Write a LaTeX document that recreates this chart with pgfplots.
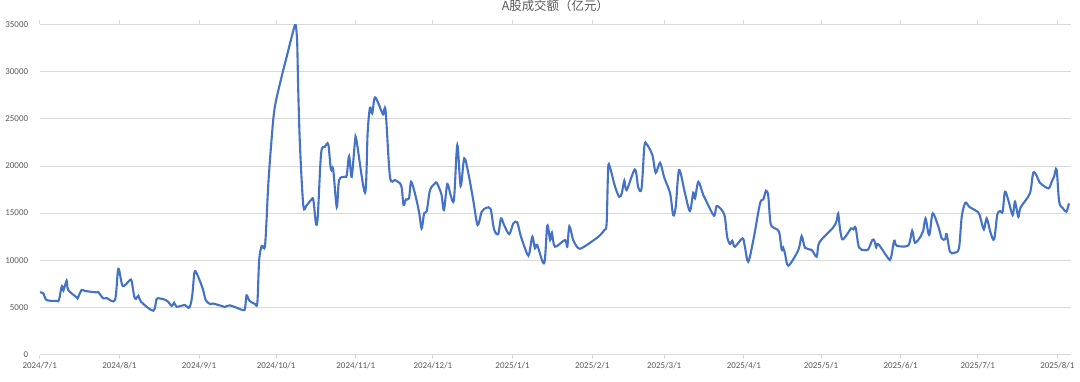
\documentclass[border=0pt]{standalone}
\usepackage{pgfplots}
\pgfplotsset{compat=1.18}
\usepackage{fontspec}
\setmainfont{Carlito}
\newfontfamily\cjk{Noto Sans CJK SC}
\definecolor{linec}{HTML}{4472C4}
\definecolor{gridc}{HTML}{D9D9D9}
\definecolor{txtc}{HTML}{595959}
\begin{document}
\begin{tikzpicture}
\path[use as bounding box] (-39.7bp,-27.3bp) rectangle (1040.3bp,354.7bp);
\begin{axis}[
  scale only axis,
  width=1031.3bp, height=330.4bp,
  xmin=0, xmax=401.3, ymin=0, ymax=35000,
  ytick={0,5000,...,35000},
  scaled y ticks=false,
  xtick={0,31,62,92,123,153,184,215,243,274,304,335,365,396},
  xticklabels={2024/7/1,2024/8/1,2024/9/1,2024/10/1,2024/11/1,2024/12/1,2025/1/1,2025/2/1,2025/3/1,2025/4/1,2025/5/1,2025/6/1,2025/7/1,2025/8/1},
  /pgf/number format/assume math mode=true,
  /pgf/number format/1000 sep={},
  ymajorgrids, grid style={gridc, line width=0.8bp},
  axis line style={draw=none},
  tick align=outside,
  major tick length=4bp,
  xtick style={draw=gridc, line width=0.8bp},
  ytick style={draw=none},
  ticklabel style={font=\fontsize{9}{10}\selectfont, text=txtc},
  yticklabel style={inner sep=0pt, xshift=-7.4bp},
  xticklabel style={inner sep=0pt, yshift=-3bp},
  title={\cjk A股成交额（亿元）},
  title style={at={(0.5,1)}, anchor=base, yshift=8bp, font=\fontsize{12.5}{13}\selectfont, text=txtc},
]
\addplot[linec, line width=2.1bp, smooth, tension=0.5] table {
x y
0.1 6600
1.4 6500
2.7 5790
6.6 5700
7.5 5800
8.6 7275
9.2 6780
10.5 7840
11.1 6850
14.4 6080
14.8 6000
16.3 6850
17.6 6750
22.2 6600
22.8 6630
24.7 5970
26.1 6000
29.3 5790
30.6 9100
32.3 7275
35.1 7910
35.8 7770
36.8 6140
37.5 5930
38.4 6250
39.4 5610
44.2 4660
45.5 5900
46.8 5950
48.5 5850
50.0 5610
51.4 5160
52.3 5500
53.3 5080
56.5 5260
58.2 4980
59.3 6140
60.2 8680
61.1 8610
63.4 7030
64.6 5790
66.3 5370
67.5 5420
70.8 5160
72.1 5050
74.0 5230
79.0 4730
79.9 4900
80.5 6290
81.6 5720
83.8 5370
84.7 5500
85.4 10030
86.4 11510
87.7 11620
88.9 17800
90.0 22030
91.3 25910
93.5 28740
96.1 31560
99.1 34740
99.7 34800
100.2 33000
100.6 28000
101.3 22000
102.6 15750
103.9 15850
105.8 16450
106.5 16380
107.5 13910
108.2 14610
109.5 21330
111.0 22030
112.3 22280
113.3 19630
114.2 19630
115.6 15610
116.5 18500
118.8 18850
119.5 19030
120.4 21040
121.4 18850
122.7 22630
123.3 22670
126.6 17160
127.6 23450
128.5 26160
129.4 25560
130.5 27260
133.1 25730
133.7 25460
134.6 25840
136.3 18850
138.3 18500
140.2 18150
140.9 17620
141.6 15850
142.5 16450
143.7 16560
144.5 18320
146.0 17090
147.6 15140
148.6 13380
149.6 14970
150.6 15220
151.9 17440
153.8 18150
154.5 18220
155.5 17620
156.4 16910
157.3 15320
158.6 18080
159.9 16910
161.2 16450
162.5 22210
163.8 17870
165.2 20800
166.8 19210
168.7 16380
170.4 13740
172.0 15140
173.9 15570
175.5 15400
176.8 13280
178.4 12780
179.5 14440
180.7 13740
182.7 12780
184.3 13910
185.8 14020
187.2 12570
189.7 10660
190.5 10700
191.7 12500
192.7 11270
193.6 11620
196.3 9680
197.5 13660
198.6 12150
199.3 12920
200.5 11440
204.4 12150
205.3 11440
206.1 13600
207.6 12150
209.6 11270
211.5 11380
217.4 12500
219.7 13210
220.6 13910
221.2 19740
221.9 19840
223.9 17790
225.5 16730
226.5 17090
227.5 18430
228.4 17440
231.6 19630
232.9 17730
234.2 17620
235.3 22100
236.2 22310
238.4 21150
239.7 19270
241.4 20330
243.0 18790
245.3 17090
246.5 14790
247.5 15670
248.8 19560
251.1 17090
253.0 15220
254.3 17160
255.0 16560
256.3 18320
258.2 16910
259.5 16200
262.4 14720
263.4 15750
265.4 15320
266.6 14610
267.5 12500
268.6 11720
269.5 12070
270.5 11440
273.5 12330
274.4 11440
275.7 9850
277.7 12150
280.3 16030
281.6 16450
282.6 17370
283.5 16810
284.4 13910
286.1 13380
287.7 13030
288.7 11160
289.3 11330
290.0 10740
291.3 9430
295.2 11090
296.5 12570
297.8 11330
300.4 11090
302.3 10380
303.0 11620
304.3 12220
308.8 13490
310.1 14190
310.7 14970
311.4 13380
312.3 12220
314.0 12680
315.7 13380
316.6 13280
317.5 13450
318.8 11370
320.9 11090
322.4 11160
324.0 12150
324.8 12070
325.5 11370
326.3 11720
330.2 10210
331.2 10210
332.5 12070
333.5 11540
338.0 11580
339.5 13130
340.6 11860
342.9 12570
343.8 13130
344.7 14440
345.8 12850
346.4 12920
347.5 14970
349.7 13560
351.0 12330
352.3 12220
352.9 12780
354.2 10910
355.9 10800
357.7 11270
358.8 14650
360.2 16100
361.7 15670
365.2 15080
366.1 14440
367.4 13280
368.5 14440
370.0 12920
371.4 12220
372.6 14790
373.7 15220
374.7 15150
375.6 17260
376.9 16380
378.6 14790
379.5 16200
380.8 14610
381.7 15610
385.3 17090
386.6 19270
388.0 18920
389.2 18220
392.5 17620
393.8 18320
394.7 18850
395.7 19630
396.7 16200
398.2 15500
399.5 15140
400.5 16030
};
\end{axis}
\end{tikzpicture}
\end{document}
